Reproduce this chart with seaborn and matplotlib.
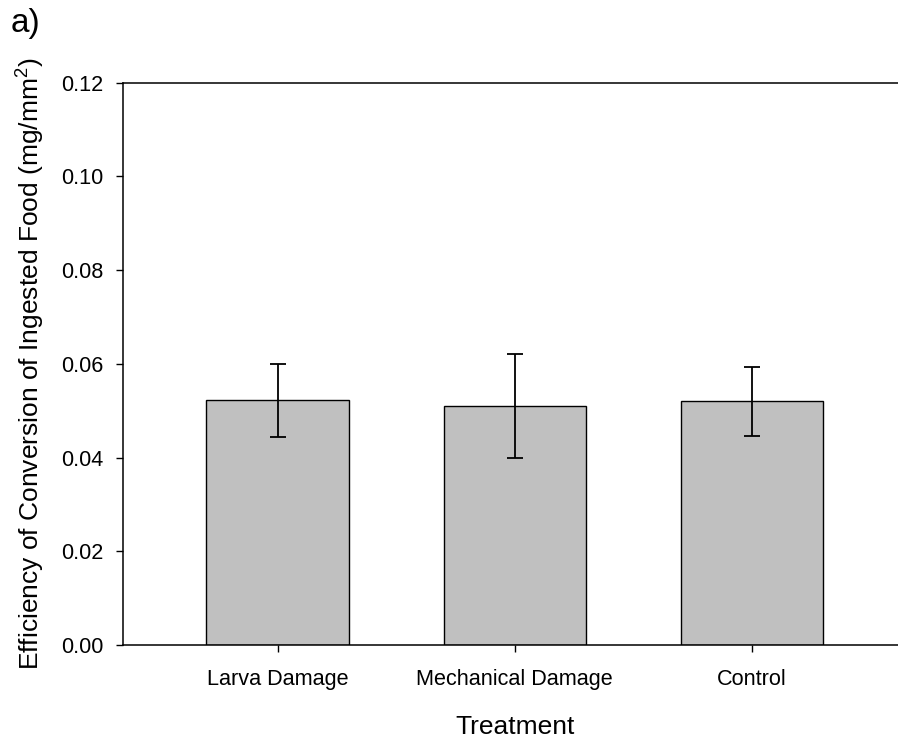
import matplotlib
matplotlib.use("Agg")
import matplotlib.pyplot as plt
import seaborn as sns
import pandas as pd
import numpy as np

categories = ["Larva Damage", "Mechanical Damage", "Control"]
means = [0.0522, 0.0510, 0.0520]
errors = [0.0078, 0.0110, 0.0074]
yticks = [0.00, 0.02, 0.04, 0.06, 0.08, 0.10, 0.12]

sns.set_theme(style="white")
plt.rcParams["font.family"] = ["Liberation Sans", "DejaVu Sans"]
plt.rcParams["mathtext.fontset"] = "custom"
plt.rcParams["mathtext.rm"] = "Liberation Sans"

df = pd.DataFrame({"Treatment": categories, "Value": means})

fig = plt.figure(figsize=(8.98, 7.42), dpi=100)
ax = fig.add_axes([0.1373, 0.1307, 0.872, 0.758])

sns.barplot(data=df, x="Treatment", y="Value", color="#c0c0c0", saturation=1,
            edgecolor="black", linewidth=1.0, width=0.6, errorbar=None, ax=ax)
ax.errorbar(x=np.arange(len(categories)), y=means, yerr=errors, fmt="none",
            ecolor="black", elinewidth=1.3, capsize=5.8, capthick=1.3, zorder=5)

ax.set_xlim(-0.65, 2.65)
ax.set_ylim(0, 0.12)
ax.set_yticks(yticks)
ax.set_yticklabels([f"{t:.2f}" for t in yticks])

for s in ["top", "bottom", "left", "right"]:
    ax.spines[s].set_visible(True)
    ax.spines[s].set_color("black")
    ax.spines[s].set_linewidth(1.1)

ax.tick_params(axis="both", direction="out", length=5.3, width=1, color="black",
               labelsize=15.6, labelcolor="black", left=True, bottom=True)
ax.tick_params(axis="x", pad=12)
ax.tick_params(axis="y", pad=9)

ax.set_xlabel("Treatment", fontsize=19, color="black")
ax.set_ylabel(r"Efficiency of Conversion of Ingested Food (mg/mm$^{2}$)",
              fontsize=19, color="black")
ax.xaxis.set_label_coords(0.5, -0.1243)
ax.yaxis.set_label_coords(-0.0992, 0.5)

fig.text(0.012, 0.969, "a)", fontsize=24, ha="left", va="center", color="black")

fig.savefig("out.png", dpi=100)
